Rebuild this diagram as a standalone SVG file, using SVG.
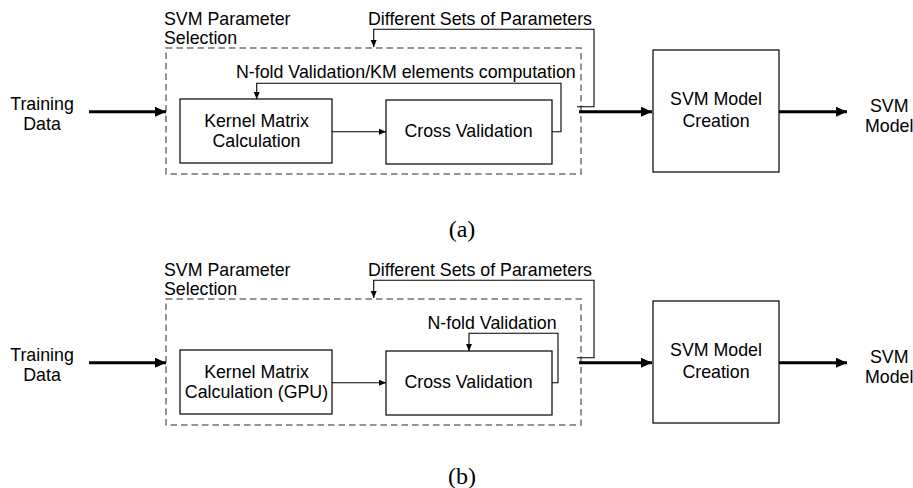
<svg xmlns="http://www.w3.org/2000/svg" width="913" height="488" viewBox="0 0 913 488">
<defs>
<marker id="ah" markerUnits="userSpaceOnUse" markerWidth="8" markerHeight="8" refX="7" refY="3" orient="auto"><path d="M0,0 L7,3 L0,6 Z" fill="#000"/></marker>
<marker id="ahb" markerUnits="userSpaceOnUse" markerWidth="12" markerHeight="12" refX="11" refY="5" orient="auto"><path d="M0,0 L11,5 L0,10 Z" fill="#000"/></marker>
<style>
text{font-family:"Liberation Sans",Arial,sans-serif;font-size:17.8px;fill:#000}
.c{text-anchor:middle}
.cap{font-family:"Liberation Serif","Times New Roman",serif;font-size:24px;text-anchor:middle}
.box{fill:#fff;stroke:#000;stroke-width:1.2}
.dash{fill:none;stroke:#707070;stroke-width:1.5;stroke-dasharray:6.5 4}
.thin{fill:none;stroke:#000;stroke-width:1.1}
.thick{fill:none;stroke:#000;stroke-width:3}
</style>
</defs>
<rect width="913" height="488" fill="#fff"/>

<!-- Panel (a) -->
<g id="a-param-selection">
<rect class="dash" x="166" y="48" width="415" height="126"/>
<text x="164" y="25">SVM Parameter</text>
<text x="164" y="44">Selection</text>
</g>
<g id="a-training-data"><text class="c" x="42" y="110">Training</text><text class="c" x="42" y="130">Data</text></g>
<g id="a-kernel"><rect class="box" x="180" y="99" width="152" height="64"/><text class="c" x="256.5" y="127">Kernel Matrix</text><text class="c" x="256.5" y="147">Calculation</text></g>
<g id="a-cross"><rect class="box" x="386" y="100" width="166" height="64"/><text class="c" x="468.5" y="136.5">Cross Validation</text></g>
<g id="a-model-creation"><rect class="box" x="653" y="50" width="126" height="122"/><text class="c" x="716" y="105">SVM Model</text><text class="c" x="716" y="126.5">Creation</text></g>
<g id="a-svm-model"><text x="870" y="111.5">SVM</text><text x="865" y="131.5">Model</text></g>
<g id="a-labels">
<text x="368" y="25">Different Sets of Parameters</text>
<text x="236" y="77.5">N-fold Validation/KM elements computation</text>
</g>
<g id="a-connectors">
<line class="thick" x1="89" y1="111.7" x2="166" y2="111.7" marker-end="url(#ahb)"/>
<line class="thin" x1="332" y1="131.7" x2="386" y2="131.7" marker-end="url(#ah)"/>
<polyline class="thin" points="552,131.7 561,131.7 561,83.3 256.7,83.3 256.7,99" marker-end="url(#ah)"/>
<polyline class="thin" points="577,106.7 594,106.7 594,29.3 373.7,29.3 373.7,47" marker-end="url(#ah)"/>
<line class="thick" x1="579" y1="111.7" x2="652" y2="111.7" marker-end="url(#ahb)"/>
<line class="thick" x1="779" y1="111.7" x2="847" y2="111.7" marker-end="url(#ahb)"/>
</g>
<text class="cap" x="462" y="237">(a)</text>

<!-- Panel (b) -->
<g id="b-param-selection">
<rect class="dash" x="166" y="299" width="415" height="126"/>
<text x="164" y="276">SVM Parameter</text>
<text x="164" y="295">Selection</text>
</g>
<g id="b-training-data"><text class="c" x="42" y="361">Training</text><text class="c" x="42" y="381">Data</text></g>
<g id="b-kernel"><rect class="box" x="180" y="350" width="152" height="64"/><text class="c" x="256.5" y="378">Kernel Matrix</text><text class="c" x="256.5" y="398">Calculation (GPU)</text></g>
<g id="b-cross"><rect class="box" x="386" y="351" width="166" height="64"/><text class="c" x="468.5" y="387.5">Cross Validation</text></g>
<g id="b-model-creation"><rect class="box" x="653" y="301" width="126" height="122"/><text class="c" x="716" y="356">SVM Model</text><text class="c" x="716" y="377.5">Creation</text></g>
<g id="b-svm-model"><text x="870" y="362.5">SVM</text><text x="865" y="382.5">Model</text></g>
<g id="b-labels">
<text x="368" y="276">Different Sets of Parameters</text>
<text x="427.5" y="328.5">N-fold Validation</text>
</g>
<g id="b-connectors">
<line class="thick" x1="89" y1="362.7" x2="166" y2="362.7" marker-end="url(#ahb)"/>
<line class="thin" x1="332" y1="382.7" x2="386" y2="382.7" marker-end="url(#ah)"/>
<polyline class="thin" points="552,382.7 558,382.7 558,333.3 469,333.3 469,351" marker-end="url(#ah)"/>
<polyline class="thin" points="577,357.7 594,357.7 594,280.3 373.7,280.3 373.7,298" marker-end="url(#ah)"/>
<line class="thick" x1="579" y1="362.7" x2="652" y2="362.7" marker-end="url(#ahb)"/>
<line class="thick" x1="779" y1="362.7" x2="847" y2="362.7" marker-end="url(#ahb)"/>
</g>
<text class="cap" x="462" y="484">(b)</text>
</svg>
